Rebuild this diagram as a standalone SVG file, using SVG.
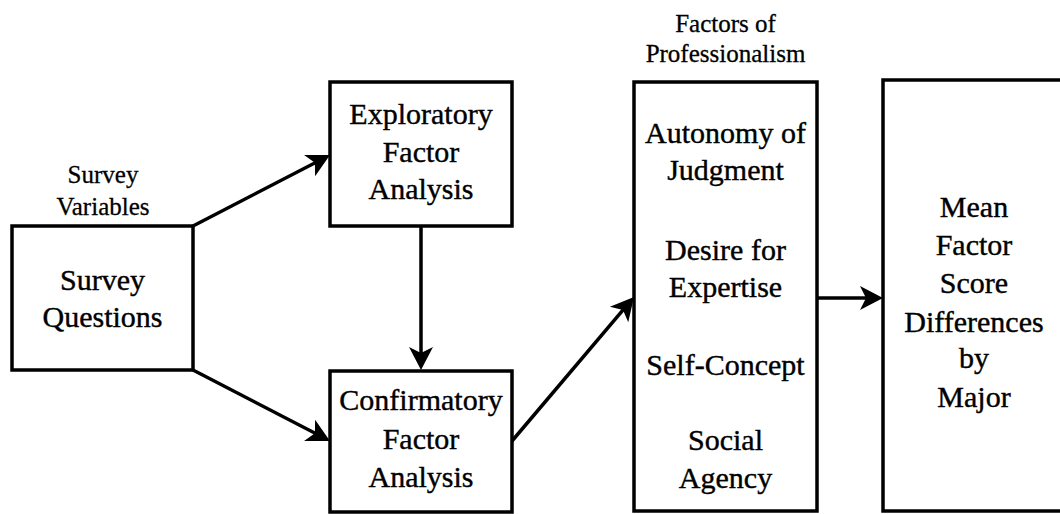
<svg xmlns="http://www.w3.org/2000/svg" width="1060" height="514" viewBox="0 0 1060 514">
  <style>
    .box { fill: #ffffff; stroke: #000000; stroke-width: 3.5; }
    .edge { fill: none; stroke: #000000; stroke-width: 3.5; }
    .lbl { font-size: 30px; fill: #000000; text-anchor: middle; stroke: #000000; stroke-width: 0.4; }
    .cap { font-size: 25px; fill: #000000; text-anchor: middle; stroke: #000000; stroke-width: 0.3; }
  </style>
  <defs>
    <marker id="arrow" markerUnits="userSpaceOnUse" viewBox="-25 -13 27 26" markerWidth="27" markerHeight="26" refX="-8" refY="0" orient="auto">
      <path d="M0,0 L-23,-12 L-17,0 L-23,12 Z" fill="#000000"/>
    </marker>
  </defs>
  <rect width="1060" height="514" fill="#ffffff"/>

  <!-- connectors -->
  <g id="connectors">
    <line class="edge" x1="193" y1="226" x2="322.9" y2="158.7" marker-end="url(#arrow)"/>
    <line class="edge" x1="193" y1="370" x2="322.9" y2="437.3" marker-end="url(#arrow)"/>
    <line class="edge" x1="421" y1="226" x2="421" y2="362" marker-end="url(#arrow)"/>
    <line class="edge" x1="512" y1="441" x2="628.8" y2="303.1" marker-end="url(#arrow)"/>
    <line class="edge" x1="817" y1="298" x2="875" y2="298" marker-end="url(#arrow)"/>
  </g>

  <!-- survey questions -->
  <g id="survey" font-family="Liberation Serif, serif">
    <text class="cap" x="103" y="183">Survey</text>
    <text class="cap" x="103" y="215">Variables</text>
    <rect class="box" x="12" y="226" width="181" height="144"/>
    <text class="lbl" x="102.5" y="290">Survey</text>
    <text class="lbl" x="102.5" y="327">Questions</text>
  </g>

  <!-- exploratory factor analysis -->
  <g id="efa" font-family="Liberation Serif, serif">
    <rect class="box" x="330" y="82" width="182" height="144"/>
    <text class="lbl" x="421" y="124">Exploratory</text>
    <text class="lbl" x="421" y="161.5">Factor</text>
    <text class="lbl" x="421" y="199">Analysis</text>
  </g>

  <!-- confirmatory factor analysis -->
  <g id="cfa" font-family="Liberation Serif, serif">
    <rect class="box" x="330" y="371" width="182" height="141"/>
    <text class="lbl" x="421" y="410">Confirmatory</text>
    <text class="lbl" x="421" y="448.5">Factor</text>
    <text class="lbl" x="421" y="487">Analysis</text>
  </g>

  <!-- factors of professionalism -->
  <g id="factors" font-family="Liberation Serif, serif">
    <text class="cap" x="725.5" y="32">Factors of</text>
    <text class="cap" x="725.5" y="62">Professionalism</text>
    <rect class="box" x="634" y="82" width="183" height="429"/>
    <text class="lbl" x="725.5" y="143">Autonomy of</text>
    <text class="lbl" x="725.5" y="180">Judgment</text>
    <text class="lbl" x="725.5" y="260">Desire for</text>
    <text class="lbl" x="725.5" y="297">Expertise</text>
    <text class="lbl" x="725.5" y="375">Self-Concept</text>
    <text class="lbl" x="725.5" y="450">Social</text>
    <text class="lbl" x="725.5" y="488">Agency</text>
  </g>

  <!-- mean factor score differences (box runs past the right edge) -->
  <g id="mean" font-family="Liberation Serif, serif">
    <rect class="box" x="883" y="80" width="190" height="431"/>
    <text class="lbl" x="974" y="217">Mean</text>
    <text class="lbl" x="974" y="255">Factor</text>
    <text class="lbl" x="974" y="293">Score</text>
    <text class="lbl" x="974" y="332">Differences</text>
    <text class="lbl" x="974" y="368">by</text>
    <text class="lbl" x="974" y="407">Major</text>
  </g>
</svg>
